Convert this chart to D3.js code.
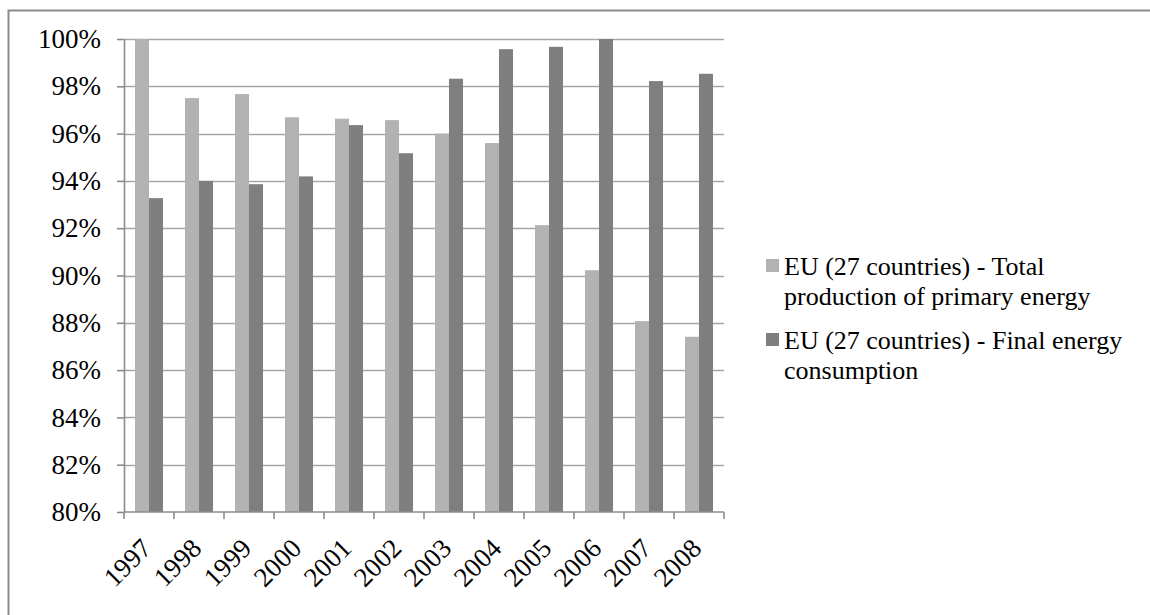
<!DOCTYPE html>
<html>
<head>
<meta charset="utf-8">
<script src="https://cdn.jsdelivr.net/npm/d3@7"></script>
<style>
  html, body { margin: 0; padding: 0; background: #fff; }
  svg { display: block; }
  text { font-family: "Liberation Serif", "Times New Roman", serif; fill: #000; }
</style>
</head>
<body>
<svg id="chart" width="1150" height="615"></svg>
<script>
// Years on the category axis
const years = ["1997","1998","1999","2000","2001","2002","2003","2004","2005","2006","2007","2008"];
// Index values (%), EU 27 countries
const primaryProduction = [100, 97.5, 97.67, 96.69, 96.63, 96.57, 96.0, 95.6, 92.13, 90.22, 88.07, 87.41];
const finalConsumption  = [93.27, 94.0, 93.86, 94.19, 96.36, 95.17, 98.32, 99.57, 99.67, 100, 98.22, 98.53];
// Series names shown in the legend (wrapped lines)
const seriesNames = [
  ["EU (27 countries) - Total", "production of primary energy"],
  ["EU (27 countries) - Final energy", "consumption"]
];
const seriesColors = ["#b2b2b2", "#7f7f7f"];
const yTicks = [80, 82, 84, 86, 88, 90, 92, 94, 96, 98, 100];

const svg = d3.select("#chart");

// Outer chart-area frame
svg.append("rect")
  .attr("x", 8.5).attr("y", 10.5)
  .attr("width", 1160).attr("height", 620)
  .attr("fill", "none").attr("stroke", "#8c8c8c").attr("stroke-width", 2);

const plot = { left: 124, right: 724, top: 39, bottom: 512 };

const x0 = d3.scaleBand().domain(years)
  .range([plot.left, plot.right])
  .paddingInner(0.44).paddingOuter(0.22);
const x1 = d3.scaleBand().domain([0, 1]).range([0, x0.bandwidth()]);
const y = d3.scaleLinear().domain([80, 100]).range([plot.bottom, plot.top]);

// Horizontal gridlines
svg.append("g").selectAll("line").data(yTicks.filter(t => t > 80)).join("line")
  .attr("x1", plot.left).attr("x2", plot.right)
  .attr("y1", d => Math.round(y(d)) + 0.5).attr("y2", d => Math.round(y(d)) + 0.5)
  .attr("stroke", "#a6a6a6").attr("stroke-width", 1.6);

// Bars
const series = [primaryProduction, finalConsumption];
series.forEach((vals, si) => {
  svg.append("g").selectAll("rect").data(vals).join("rect")
    .attr("x", (d, i) => x0(years[i]) + x1(si))
    .attr("y", d => y(d))
    .attr("width", x1.bandwidth())
    .attr("height", d => y(80) - y(d))
    .attr("fill", seriesColors[si]);
});

// Value axis
const yAxis = d3.axisLeft(y).tickValues(yTicks)
  .tickFormat(d => d + "%").tickSizeInner(7).tickSizeOuter(0).tickPadding(16);
const gy = svg.append("g").attr("transform", `translate(${plot.left},0)`).call(yAxis);
gy.attr("font-family", null).attr("font-size", null);
gy.selectAll("path, line").attr("stroke", "#8c8c8c").attr("stroke-width", 1.6);
gy.selectAll("text").attr("font-size", 27).attr("fill", "#000");

// Category axis
const xTickScale = d3.scalePoint().domain(d3.range(years.length + 1)).range([plot.left, plot.right]);
const gx = svg.append("g").attr("transform", `translate(0,${plot.bottom})`);
gx.append("line").attr("x1", plot.left).attr("x2", plot.right)
  .attr("stroke", "#8c8c8c").attr("stroke-width", 1.6);
gx.selectAll("line.tick").data(d3.range(years.length + 1)).join("line")
  .attr("class", "tick")
  .attr("x1", d => xTickScale(d)).attr("x2", d => xTickScale(d))
  .attr("y1", 0).attr("y2", 7)
  .attr("stroke", "#8c8c8c").attr("stroke-width", 1.6);
gx.selectAll("text").data(years).join("text")
  .attr("transform", d => `translate(${x0(d) + x0.bandwidth() / 2 + 4},38) rotate(-45)`)
  .attr("text-anchor", "end")
  .attr("font-size", 27)
  .text(d => d);

// Legend
const legend = svg.append("g");
const legendBaseline = [274.5, 348.5];
seriesNames.forEach((lines, si) => {
  legend.append("rect")
    .attr("x", 766).attr("y", legendBaseline[si] - 15.5)
    .attr("width", 13).attr("height", 13)
    .attr("fill", seriesColors[si]);
  lines.forEach((ln, li) => {
    legend.append("text")
      .attr("x", 784).attr("y", legendBaseline[si] + li * 30.5)
      .attr("font-size", 26)
      .text(ln);
  });
});
</script>
</body>
</html>
